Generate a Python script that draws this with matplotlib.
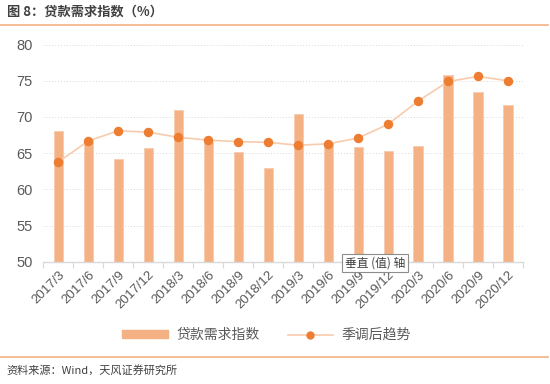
import matplotlib
matplotlib.use("Agg")
import matplotlib.pyplot as plt
from matplotlib.lines import Line2D
from matplotlib.patches import Patch
import numpy as np

plt.rcParams['font.family'] = ['Noto Sans CJK SC', 'DejaVu Sans']

categories = ["2017/3", "2017/6", "2017/9", "2017/12", "2018/3", "2018/6", "2018/9", "2018/12",
              "2019/3", "2019/6", "2019/9", "2019/12", "2020/3", "2020/6", "2020/9", "2020/12"]
loan_demand = [68.0, 66.8, 64.2, 65.7, 70.9, 66.6, 65.2, 63.0,
               70.4, 66.4, 65.9, 65.3, 66.0, 75.8, 73.5, 71.6]
seasonal_trend = [63.8, 66.7, 68.1, 67.9, 67.2, 66.8, 66.6, 66.5,
                  66.1, 66.3, 67.1, 69.0, 72.2, 74.9, 75.6, 75.0]
yticks = [50, 55, 60, 65, 70, 75, 80]

title = "图 8：贷款需求指数（%）"
source = "资料来源：Wind，天风证券研究所"
series_names = ["贷款需求指数", "季调后趋势"]

bar_color = "#F4B183"
line_color = "#F8CBAD"
marker_color = "#ED7D31"
text_color = "#595959"

fig = plt.figure(figsize=(5.5, 3.84), dpi=100)
ax = fig.add_axes([0.079, 0.318, 0.872, 0.566])

x = np.arange(len(categories))
ax.bar(x, [v - 50 for v in loan_demand], bottom=50, width=0.31, color=bar_color,
       edgecolor="#F8CBAD", linewidth=0.6, zorder=2)
ax.plot(x, seasonal_trend, color=line_color, linewidth=1.2, zorder=3)
ax.plot(x, seasonal_trend, linestyle="none", marker="o", markersize=5.8,
        color=marker_color, zorder=4)

ax.set_xlim(-0.5, len(categories) - 0.5)
ax.set_ylim(50, 80)
ax.set_yticks(yticks)
ax.set_xticks(x)
ax.set_xticklabels(categories, rotation=45, ha="right", rotation_mode="anchor",
                   fontsize=9.5, color=text_color, family=['Liberation Sans', 'DejaVu Sans'])
ax.set_xticks(np.arange(-0.5, len(categories), 1), minor=True)
ax.tick_params(axis="x", which="major", length=0, pad=5)
ax.tick_params(axis="x", which="minor", length=4, color="#D9D9D9", width=0.8)
ax.tick_params(axis="y", length=0, pad=8, labelsize=10.5, labelcolor=text_color)
for lbl in ax.get_yticklabels():
    lbl.set_family(['Liberation Sans', 'DejaVu Sans'])

ax.grid(axis="y", color="#D9D9D9", linestyle=(0, (1, 2)), linewidth=0.7, zorder=0)
for s in ["top", "right", "left"]:
    ax.spines[s].set_visible(False)
ax.spines["bottom"].set_color("#D9D9D9")
ax.spines["bottom"].set_linewidth(1.0)

# Legend
handles = [Patch(facecolor=bar_color, edgecolor=bar_color),
           Line2D([0], [0], color=line_color, linewidth=1.2, marker="o",
                  markersize=5, markerfacecolor=marker_color, markeredgecolor=marker_color)]
fig.legend(handles, series_names, loc="center", bbox_to_anchor=(0.485, 1 - 335 / 384),
           ncol=2, frameon=False, fontsize=10, handlelength=3.3, handleheight=0.5,
           columnspacing=2.0, handletextpad=0.6, labelcolor=text_color)

# Title and decorative lines
fig.text(0.012, 1 - 12 / 384, title, fontsize=9.5, fontweight="bold", color="#404040",
         va="center", ha="left")
fig.add_artist(Line2D([0, 0.997], [1 - 25 / 384, 1 - 25 / 384], color="#F4B183",
                      linewidth=1.2, transform=fig.transFigure))
fig.add_artist(Line2D([0, 0.997], [1 - 357 / 384, 1 - 357 / 384], color="#F4B183",
                      linewidth=1.2, transform=fig.transFigure))
fig.text(0.012, 1 - 370 / 384, source, fontsize=8, color="#404040", va="center", ha="left")

# Tooltip-like box
fig.text(345 / 550, 1 - 263 / 384, "垂直 (值) 轴", fontsize=8.5, color="#404040",
         va="center", ha="left", zorder=10,
         bbox=dict(boxstyle="square,pad=0.25", facecolor="white", edgecolor="#8C8C8C",
                   linewidth=0.8))

fig.savefig("out.png", dpi=100)
